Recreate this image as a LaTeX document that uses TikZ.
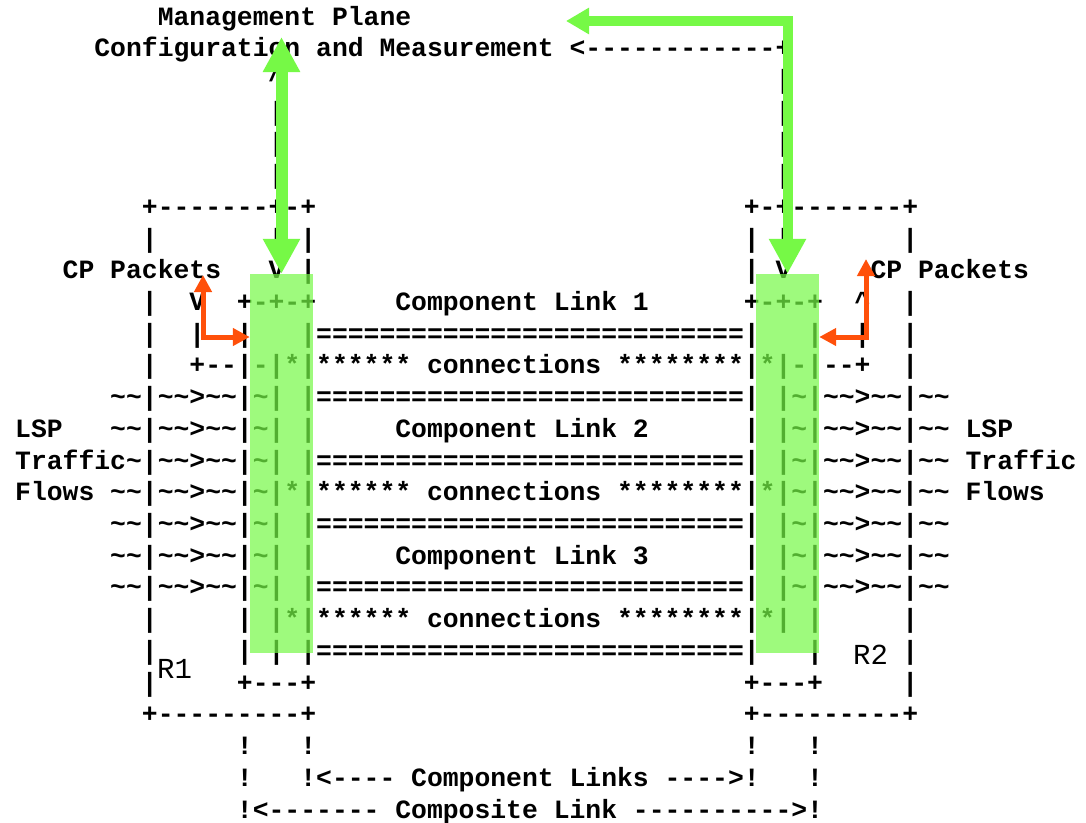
\documentclass[tikz,border=0pt]{standalone}
\usepackage{fontspec}
\setmonofont{Liberation Mono}
\usepackage{xcolor}
\usetikzlibrary{arrows.meta}
\definecolor{hlgreen}{RGB}{118,249,70}
\definecolor{cporange}{RGB}{255,80,10}
\tikzset{
  asc/.style = {anchor=base west, inner sep=0pt, font=\fontsize{26.4}{31}\selectfont\ttfamily\bfseries},
  rtr/.style = {anchor=base west, inner sep=0pt, font=\fontsize{29}{31}\selectfont\ttfamily},
  hlbox/.style = {fill=hlgreen, fill opacity=0.7, inner sep=0pt, minimum width=63pt, minimum height=379pt},
  garrow/.style = {draw=hlgreen},
  cparr/.style = {draw=cporange, line width=5pt, {Triangle[width=17pt,length=17pt]}-{Triangle[width=17pt,length=17pt]}}
}
\catcode`\~=12
\catcode`\^=12

\begin{document}
\begin{tikzpicture}[x=1pt, y=-1pt]
\fill[white] (0,0) rectangle (1086,822);
\useasboundingbox (0,0) rectangle (1086,822);

% ascii figure, one unit = one character cell
\begin{scope}[shift={(15,25)}, x=15.84pt, y=-31.72pt]
  \node[asc] (mgmt) at (9,0) {Management Plane};
  \node[asc] (conf) at (5,1) {Configuration and Measurement <------------+};
  \node[asc] (up) at (16,2) {^};
  \node[asc] (rv2) at (48,2) {|};
  \foreach \r in {3,4,5} {
    \node[asc] (lv\r) at (16,\r) {|};
    \node[asc] (rv\r) at (48,\r) {|};
  }
  \node[asc] (ltop) at (8,6) {+-------+-+};
  \node[asc] (rtop) at (46,6) {+-+-------+};
  \node[asc] (l7a) at (8,7) {|};
  \node[asc] (l7b) at (16,7) {| |};
  \node[asc] (r7a) at (46,7) {| |};
  \node[asc] (r7b) at (56,7) {|};
  \node[asc] (cpl) at (3,8) {CP Packets};
  \node[asc] (l8) at (16,8) {V |};
  \node[asc] (r8) at (46,8) {| V};
  \node[asc] (cpr) at (54,8) {CP Packets};
  \node[asc] (l9a) at (8,9) {|};
  \node[asc] (l9b) at (11,9) {V};
  \node[asc] (l9c) at (14,9) {+-+-+};
  \node[asc] (cl1) at (24,9) {Component Link 1};
  \node[asc] (r9a) at (46,9) {+-+-+};
  \node[asc] (r9b) at (53,9) {^};
  \node[asc] (r9c) at (56,9) {|};
  \node[asc] (l10a) at (8,10) {|};
  \node[asc] (l10b) at (11,10) {|};
  \node[asc] (l10c) at (14,10) {|};
  \node[asc] (r10a) at (50,10) {|};
  \node[asc] (r10b) at (53,10) {|};
  \node[asc] (r10c) at (56,10) {|};
  \node[asc] (l11) at (8,11) {|};
  \node[asc] (conn1) at (11,11) {+--|-|*|****** connections ********|*|-|--+};
  \node[asc] (r11) at (56,11) {|};

  % component links and lsp flows
  \foreach \r in {10,12,14,16,18,20}
    \node[asc] (eq\r) at (18,\r) {|===========================|};
  \foreach \r in {12,13,16,17,18}
    \node[asc] (lt\r) at (6,\r) {~~|~~>~~|~|};
  \foreach \r in {12,13,14,16,17,18}
    \node[asc] (rt\r) at (48,\r) {|~|~~>~~|~~};
  \foreach \r in {13,17} {
    \node[asc] (lm\r) at (18,\r) {|};
    \node[asc] (rm\r) at (46,\r) {|};
  }
  \node[asc] (cl2) at (24,13) {Component Link 2};
  \node[asc] (cl3) at (24,17) {Component Link 3};
  \node[asc] (lspl) at (0,13) {LSP};
  \node[asc] (lspr) at (60,13) {LSP};
  \node[asc] (trfl) at (0,14) {Traffic~|~~>~~|~|};
  \node[asc] (trfr) at (60,14) {Traffic};
  \node[asc] (flwl) at (0,15) {Flows};
  \node[asc] (conn2) at (6,15) {~~|~~>~~|~|*|****** connections ********|*|~|~~>~~|~~};
  \node[asc] (flwr) at (60,15) {Flows};

  \foreach \col in {8,14,50,56}
    \node[asc] (v19\col) at (\col,19) {|};
  \node[asc] (conn3) at (16,19) {|*|****** connections ********|*|};
  \foreach \col in {8,14,16,50,56}
    \node[asc] (v20\col) at (\col,20) {|};
  \node[asc] (l21a) at (8,21) {|};
  \node[asc] (l21b) at (14,21) {+---+};
  \node[asc] (r21a) at (46,21) {+---+};
  \node[asc] (r21b) at (56,21) {|};
  \node[asc] (lbot) at (8,22) {+---------+};
  \node[asc] (rbot) at (46,22) {+---------+};
  \foreach \col in {14,18,46,50}
    \node[asc] (x23\col) at (\col,23) {!};
  \node[asc] (x24a) at (14,24) {!};
  \node[asc] (cls) at (18,24) {!<---- Component Links ---->!};
  \node[asc] (x24b) at (50,24) {!};
  \node[asc] (comp) at (14,25) {!<------- Composite Link ---------->!};
\end{scope}

\node[rtr] (r1) at (157,678) {R1};
\node[rtr] (r2) at (853,664) {R2};

% highlights
\node[hlbox] (lbox) at (281.5,463.5) {};
\node[hlbox] (rbox) at (787.5,463.5) {};
\coordinate (cfgtip) at (281.5,37);
\coordinate (planetip) at (566,21);
\coordinate (lcp) at (203,275);
\coordinate (rcp) at (866,259);
\draw[garrow, line width=12pt, {Triangle[width=35pt,length=35pt]}-{Triangle[width=35pt,length=35pt]}] (lbox.north) -- (cfgtip);
\draw[garrow, line width=10pt, {Triangle[width=25pt,length=23pt]}-{Triangle[width=35pt,length=35pt]}] (planetip) -| (rbox.north);
\draw[cparr] (lcp) |- (lbox.west |- 0,337);
\draw[cparr] (rcp) |- (rbox.east |- 0,337);
\end{tikzpicture}
\end{document}
